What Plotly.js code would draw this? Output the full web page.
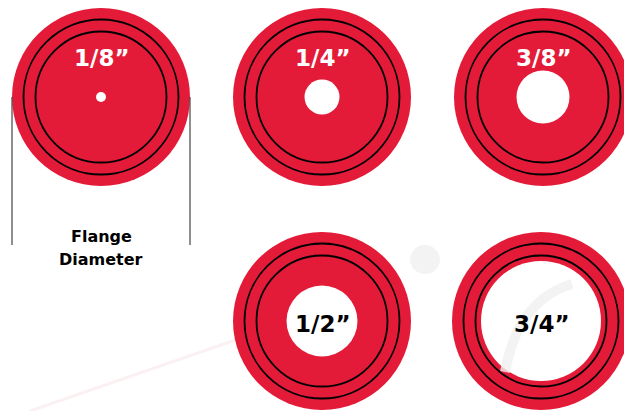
<!DOCTYPE html>
<html>
<head>
<meta charset="utf-8">
<script src="https://cdn.plot.ly/plotly-3.0.1.min.js"></script>
<style>
  html, body { margin: 0; padding: 0; background: #ffffff; }
  #chart { width: 624px; height: 411px; }
</style>
</head>
<body>
<div id="chart"></div>
<script>
// ---- data ----
const sizeLabels = ['1/8\u201D', '1/4\u201D', '3/8\u201D', '1/2\u201D', '3/4\u201D'];
const holeDiameters = [10, 35, 53, 71, 120];      // hole size (same units as flange)
const flangeDiameter = 178;                      // outer flange diameter
const ringDiameters = [155, 131];                // printed groove rings
const dimensionText = ['Flange', 'Diameter'];

// ---- layout (grid slots, not data) ----
const slots = [[101, 97], [322, 97], [543, 97], [322, 321], [541, 321]];
const RED = '#e31b38';

const shapes = [];
const annotations = [];

// faint watermark pieces (behind)
shapes.push({type: 'circle', xref: 'x', yref: 'y', x0: 410, x1: 440, y0: 245, y1: 274,
  fillcolor: '#f3f3f3', line: {width: 0}, layer: 'below'});
shapes.push({type: 'path', xref: 'x', yref: 'y', path: 'M 30 411 L 250 335',
  line: {color: 'rgba(235,160,170,0.15)', width: 3}, layer: 'below'});

sizeLabels.forEach((lab, i) => {
  const [cx, cy] = slots[i];
  const R = flangeDiameter / 2;
  shapes.push({type: 'circle', xref: 'x', yref: 'y', x0: cx - R, x1: cx + R, y0: cy - R, y1: cy + R,
    fillcolor: RED, line: {width: 0}});
  ringDiameters.forEach(d => {
    const r = d / 2;
    shapes.push({type: 'circle', xref: 'x', yref: 'y', x0: cx - r, x1: cx + r, y0: cy - r, y1: cy + r,
      fillcolor: 'rgba(0,0,0,0)', line: {color: '#000000', width: 1.8}});
  });
  const h = holeDiameters[i] / 2;
  shapes.push({type: 'circle', xref: 'x', yref: 'y', x0: cx - h, x1: cx + h, y0: cy - h, y1: cy + h,
    fillcolor: '#ffffff', line: {width: 0}});
  const inside = holeDiameters[i] > 60;
  annotations.push({
    x: cx + 1, y: inside ? cy + 3 : cy - 39, xref: 'x', yref: 'y',
    text: lab, showarrow: false, xanchor: 'center', yanchor: 'middle',
    font: {family: 'DejaVu Sans', size: 23, color: inside ? '#000000' : '#ffffff', weight: 'bold'}
  });
});

// faint watermark arc inside the largest hole
shapes.push({type: 'path', xref: 'x', yref: 'y',
  path: 'M 505 372 Q 518 300 572 284',
  line: {color: 'rgba(240,240,240,0.8)', width: 10}});

// flange diameter dimension lines
const [c0x, c0y] = slots[0];
[-1, 1].forEach(s => {
  const x = c0x + s * flangeDiameter / 2;
  shapes.push({type: 'line', xref: 'x', yref: 'y', x0: x, x1: x, y0: c0y, y1: 245,
    line: {color: '#444444', width: 1.2}});
});
dimensionText.forEach((t, k) => {
  annotations.push({x: c0x, y: 236 + k * 23, xref: 'x', yref: 'y', text: t, showarrow: false,
    xanchor: 'center', yanchor: 'middle',
    font: {family: 'DejaVu Sans', size: 16, color: '#000000', weight: 'bold'}});
});

Plotly.newPlot('chart', [{x: [], y: [], type: 'scatter', hoverinfo: 'skip', showlegend: false}], {
  width: 624, height: 411,
  margin: {l: 0, r: 0, t: 0, b: 0, pad: 0},
  paper_bgcolor: '#ffffff', plot_bgcolor: '#ffffff',
  xaxis: {range: [0, 624], visible: false, fixedrange: true},
  yaxis: {range: [411, 0], visible: false, fixedrange: true},
  showlegend: false,
  shapes: shapes,
  annotations: annotations
}, {displayModeBar: false, staticPlot: true});
</script>
</body>
</html>
